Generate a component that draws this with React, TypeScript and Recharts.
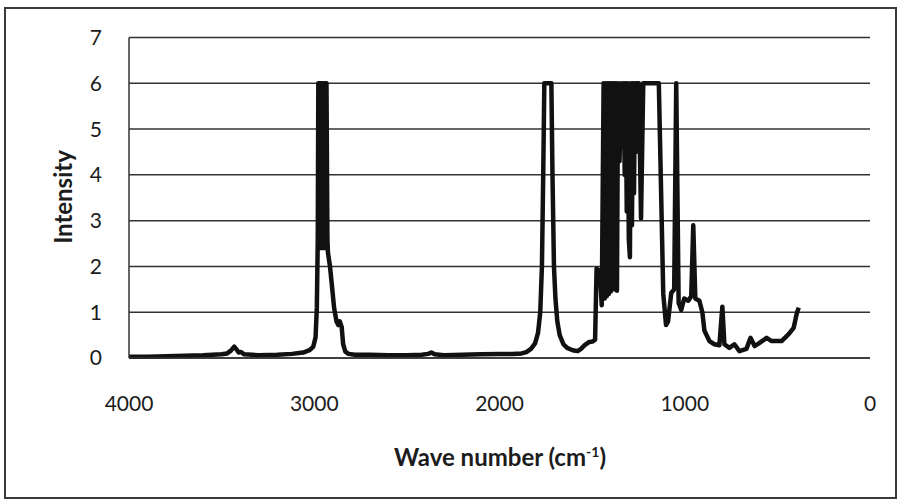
import React from 'react';
import { LineChart, Line, XAxis, YAxis, CartesianGrid } from 'recharts';

// IR spectrum, wave number (cm-1) running high to low
const waveNumbers = [
  4000, 3900, 3800, 3700, 3600, 3500, 3470, 3450, 3432, 3420, 3408, 3395, 3378, 3300, 3200, 3120,
  3060, 3025, 3005, 2993, 2986, 2981, 2978, 2974, 2969, 2964, 2959, 2954, 2949, 2944, 2939, 2934,
  2929, 2926, 2915, 2905, 2893, 2880, 2870, 2862, 2852, 2844, 2832, 2815, 2780, 2700, 2600, 2500,
  2420, 2385, 2368, 2350, 2300, 2200, 2100, 2000, 1930, 1880, 1855, 1830, 1808, 1792, 1780, 1771,
  1764, 1758, 1740, 1720, 1714, 1706, 1698, 1688, 1675, 1655, 1635, 1605, 1578, 1560, 1540, 1515,
  1497, 1484, 1476, 1458, 1448, 1438, 1432, 1427, 1421, 1416, 1410, 1405, 1399, 1394, 1388, 1383,
  1377, 1372, 1366, 1360, 1352, 1343, 1336, 1330, 1324, 1319, 1313, 1308, 1302, 1296, 1291, 1285,
  1280, 1274, 1269, 1264, 1258, 1248, 1236, 1224, 1180, 1140, 1116, 1101, 1090, 1073, 1057, 1046,
  1033, 1019, 1003, 981, 965, 954, 943, 921, 905, 894, 867, 840, 813, 797, 786, 759,
  732, 705, 667, 645, 623, 596, 558, 531, 477, 439, 412, 396, 385,
];

const intensity = [
  0.03, 0.03, 0.04, 0.05, 0.06, 0.08, 0.1, 0.16, 0.25, 0.19, 0.12, 0.13, 0.08, 0.06, 0.07, 0.09,
  0.12, 0.17, 0.25, 0.45, 1.1, 2.6, 6, 2.5, 6, 2.4, 6, 2.4, 6, 2.4, 6, 6,
  2.6, 2.3, 2.0, 1.6, 1.1, 0.8, 0.72, 0.8, 0.68, 0.3, 0.14, 0.09, 0.07, 0.07, 0.06, 0.06,
  0.07, 0.09, 0.12, 0.08, 0.06, 0.07, 0.08, 0.09, 0.09, 0.1, 0.13, 0.2, 0.32, 0.55, 1.0, 2.0,
  4.0, 6, 6, 6, 4.0, 2.0, 1.3, 0.8, 0.5, 0.3, 0.22, 0.17, 0.15, 0.2, 0.28, 0.35,
  0.36, 0.4, 1.95, 1.9, 1.15, 6, 1.3, 6, 1.35, 6, 1.4, 6, 1.45, 6, 1.5, 6,
  1.5, 6, 1.47, 6, 4.3, 6, 4.6, 6, 4.0, 6, 3.2, 6, 2.6, 2.2, 6, 2.9,
  6, 3.6, 6, 4.5, 6, 6, 3.05, 6, 6, 6, 1.4, 0.72, 0.8, 1.42, 1.5, 6,
  1.2, 1.05, 1.3, 1.25, 1.35, 2.9, 1.3, 1.25, 1.0, 0.6, 0.37, 0.3, 0.28, 1.12, 0.3, 0.22,
  0.3, 0.15, 0.2, 0.44, 0.26, 0.33, 0.44, 0.37, 0.37, 0.52, 0.66, 0.96, 1.1,
];

const xTicks = [4000, 3000, 2000, 1000, 0];
const yTicks = [0, 1, 2, 3, 4, 5, 6, 7];

const spectrum = waveNumbers.map((wn, i) => ({ wn, value: intensity[i] }));

const font = 'Lato, "Open Sans", sans-serif';
const ink = '#1c1c1c';

const XTick = (props: any) => {
  const { x, y, payload } = props;
  return (
    <text x={x} y={y} textAnchor="middle" fontSize={21} fill={ink} fontFamily={font}>
      {payload.value}
    </text>
  );
};

export default function App() {
  return (
    <div style={{ position: 'absolute', left: 0, top: 0, width: 899, height: 502, background: '#fff' }}>
      <div
        style={{
          position: 'absolute',
          left: 4,
          top: 7,
          width: 893,
          height: 492,
          boxSizing: 'border-box',
          border: '2px solid #3a3a3a',
        }}
      />
      <LineChart
        width={899}
        height={502}
        data={spectrum}
        margin={{ top: 37.5, right: 29, left: 69, bottom: 104 }}
        style={{ position: 'absolute', left: 0, top: 0 }}
      >
        <CartesianGrid vertical={false} stroke="#333" strokeWidth={1.5} />
        <XAxis
          dataKey="wn"
          type="number"
          domain={[0, 4000]}
          reversed
          ticks={xTicks}
          height={40}
          axisLine={{ stroke: '#333', strokeWidth: 1.5 }}
          tickLine={false}
          tickSize={0}
          tickMargin={53}
          tick={<XTick />}
        />
        <YAxis
          type="number"
          domain={[0, 7]}
          ticks={yTicks}
          width={60}
          axisLine={{ stroke: '#333', strokeWidth: 1.5 }}
          tickLine={false}
          tickSize={0}
          tickMargin={27}
          tick={{ fontSize: 21, fill: ink, fontFamily: font }}
        />
        <Line
          type="linear"
          dataKey="value"
          stroke="#111"
          strokeWidth={4.5}
          strokeLinejoin="round"
          dot={false}
          isAnimationActive={false}
        />
      </LineChart>
      <div
        style={{
          position: 'absolute',
          left: 62,
          top: 197,
          transform: 'translate(-50%, -50%) rotate(-90deg)',
          fontFamily: font,
          fontWeight: 700,
          fontSize: 24,
          color: ink,
          whiteSpace: 'nowrap',
        }}
      >
        Intensity
      </div>
      <div
        style={{
          position: 'absolute',
          left: 500,
          top: 456,
          transform: 'translate(-50%, -50%)',
          fontFamily: font,
          fontWeight: 700,
          fontSize: 24,
          color: ink,
          whiteSpace: 'nowrap',
        }}
      >
        Wave number (cm<sup style={{ fontSize: 14 }}>-1</sup>)
      </div>
    </div>
  );
}
